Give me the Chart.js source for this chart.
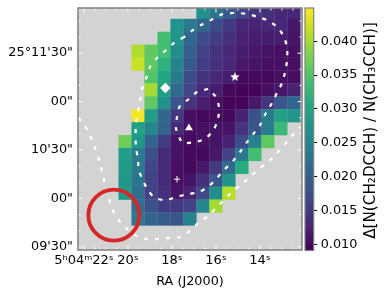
<!DOCTYPE html>
<html>
<head>
<meta charset="utf-8">
<script src="https://cdn.jsdelivr.net/npm/chart.js@4"></script>
<style>
  body { margin: 0; background: #fff; }
  #map { position: absolute; left: 0; top: 0; }
  #bar { position: absolute; left: 300px; top: 0; }
</style>
</head>
<body>
<canvas id="map" width="388" height="295"></canvas>
<canvas id="bar" width="88" height="295"></canvas>
<script>
const raCenters = [20.13, 19.54, 18.95, 18.36, 17.77, 17.18, 16.59, 16.0, 15.41, 14.82, 14.23, 13.64, 13.05, 12.46];
const decCenters = [175.2, 167.2, 159.2, 151.2, 143.2, 135.2, 127.2, 119.2, 111.2, 103.2, 95.2, 87.2, 79.2, 71.2, 63.2, 55.2, 47.2];

// one row per dec, one column per ra, values in units of 1e-3
const n = null;
const ratioRows = [
  [n, n, n, n, n, n, 27, 23, 19.5, 16.5, 14.5, 14, 13, 13],
  [n, n, n, n, 27.5, 23.5, 21, 17.5, 15, 13, 12.5, 13, 13, 11.5],
  [n, n, n, 34, 27.5, 21, 17.5, 15.5, 14, 12.5, 12, 12, 12, 11],
  [n, 40.5, 36, 34, 26.5, 20, 16, 14.5, 13, 12, 11.5, 11, 10.5, 10.5],
  [n, 42, 36, 32, 25, 19, 15.5, 14, 13, 11.5, 11, 10.5, 10.5, 10.5],
  [n, n, 35, 30.5, 24, 17.5, 14.5, 13, 12, 10, 10, 10, 10.5, 10.5],
  [n, n, 40, 29, 21.5, 16.5, 13, 12, 10, 9.5, 9.5, 10.5, 11.5, 12.5],
  [n, n, 36, 27, 18.5, 14.5, 12, 10.5, 9.5, 9.5, 11.5, 14.5, 18.5, 20.5],
  [n, 44.5, 29, 21, 15, 10.5, 10, 10, 10, 12.5, 18, 24, 29.5, 28],
  [n, 29.5, 25.5, 20.5, 13.5, 10.5, 10.5, 11, 11, 14.5, 18.5, 24, 33, n],
  [37, 28, 20.5, 15.5, 11, 10, 10.5, 11, 12.5, 17, 24.5, 36, n, n],
  [29, 24, 18, 13.5, 11, 10, 10, 11.5, 16, 23.5, 34, n, n, n],
  [28.5, 24, 16.5, 13.5, 10.5, 10, 11.5, 15, 21.5, 31, n, n, n, n],
  [28, 23, 16, 13.5, 10.5, 11, 14, 18.5, 27.5, n, n, n, n, n],
  [28.5, 22, 16, 14, 11, 12.5, 17, 26.5, 41, n, n, n, n, n],
  [n, 22, 18, 15.5, 15, 16, 25.5, 40, n, n, n, n, n, n],
  [n, 23.5, 20.5, 19.5, 18.5, 25, n, n, n, n, n, n, n, n]
];

const outerRa = [17.45, 17.91, 18.32, 18.68, 19.0, 19.18, 19.36, 19.45, 19.55, 19.64, 19.64, 19.55, 19.5, 19.32, 19.14, 18.82, 18.32, 17.82, 17.27, 16.77, 16.32, 15.96, 15.59, 15.23, 14.91, 14.59, 14.27, 14.0, 13.73, 13.45, 13.23, 13.0, 12.86, 12.77, 12.77, 12.91, 13.18, 13.59, 14.09, 14.59, 15.14, 15.68, 16.14, 16.59, 17.05, 17.45];
const outerDec = [160.0, 156.3, 151.3, 147.0, 141.4, 134.0, 127.8, 120.3, 112.9, 106.1, 91.8, 85.0, 77.5, 71.3, 66.4, 60.8, 59.0, 60.8, 62.7, 63.9, 67.6, 72.6, 78.2, 83.1, 88.7, 94.9, 100.5, 105.4, 112.9, 119.1, 125.3, 131.5, 138.3, 145.7, 153.2, 160.0, 165.6, 169.9, 172.4, 174.3, 174.9, 174.3, 171.2, 168.1, 164.3, 160.0];
const innerRa = [16.36, 16.86, 17.23, 17.64, 17.77, 17.82, 17.59, 17.5, 16.95, 16.45, 16.09, 15.91, 15.86, 16.0, 16.36];
const innerDec = [127.8, 125.9, 121.6, 117.2, 110.4, 103.6, 95.5, 94.3, 94.9, 97.4, 103.0, 109.2, 116.0, 122.8, 127.8];
const shellRa = [22.27, 22.09, 21.82, 21.59, 21.27, 21.14, 21.0, 20.73, 20.45, 20.09, 19.59, 19.14, 18.64, 18.09, 17.64, 17.14, 16.77, 16.36, 15.96, 15.23, 14.77, 14.41, 14.0, 13.59, 13.23, 12.86, 12.55, 12.18];
const shellDec = [109.8, 107.3, 101.7, 94.9, 81.9, 74.4, 67.0, 54.0, 47.2, 41.6, 36.6, 34.8, 34.8, 35.4, 36.0, 40.3, 45.3, 49.0, 54.6, 64.5, 69.5, 73.8, 78.8, 83.1, 88.1, 93.7, 98.6, 104.2];

const raTicks = [22, 20, 18, 16, 14];
const raLabels = ['5ʰ04ᵐ22ˢ', '20ˢ', '18ˢ', '16ˢ', '14ˢ'];
const raMinor = [21.5, 21, 20.5, 19.5, 19, 18.5, 17.5, 17, 16.5, 15.5, 15, 14.5, 13.5, 13, 12.5];
const decTicks = [150, 120, 90, 60, 30];
const decLabels = ['25°11\'30"', '00"', '10\'30"', '00"', '09\'30"'];
const decMinor = [170, 160, 140, 130, 110, 100, 80, 70, 50, 40];
const barTicks = [0.010, 0.015, 0.020, 0.025, 0.030, 0.035, 0.040];

const vmin = 0.0091, vmax = 0.0449;
const viridis = ['#440154', '#482475', '#414487', '#355f8d', '#2a788e', '#21918c', '#22a884', '#44bf70', '#7ad151', '#bddf26', '#fde725'];
const spineColor = '#808080';
const fontFamily = '"DejaVu Sans"';

function hexRgb(h) {
  return [parseInt(h.substr(1, 2), 16), parseInt(h.substr(3, 2), 16), parseInt(h.substr(5, 2), 16)];
}

function viridisAt(t) {
  t = Math.max(0, Math.min(1, t));
  let p = t * (viridis.length - 1);
  let i = Math.min(Math.floor(p), viridis.length - 2);
  let a = hexRgb(viridis[i]), b = hexRgb(viridis[i + 1]), f = p - i;
  return 'rgb(' + a.map((c, k) => Math.round(c + (b[k] - c) * f)).join(',') + ')';
}

function zipPoints(xs, ys) {
  return xs.map((x, i) => ({ x: x, y: ys[i] }));
}

// filled five pointed star, the built in one is only strokes
function starMarker(r) {
  let c = document.createElement('canvas');
  c.width = c.height = r * 2 + 2;
  let g = c.getContext('2d');
  g.fillStyle = '#fff';
  g.beginPath();
  for (let i = 0; i < 10; i++) {
    let rad = i % 2 ? r * 0.42 : r;
    let a = -Math.PI / 2 + i * Math.PI / 5;
    g.lineTo(r + 1 + rad * Math.cos(a), r + 1 + rad * Math.sin(a));
  }
  g.closePath();
  g.fill();
  return c;
}

let cells = [];
ratioRows.forEach((row, j) => {
  row.forEach((v, i) => {
    if (v !== null) cells.push({ x: raCenters[i], y: decCenters[j], v: v / 1000 });
  });
});

function contour(xs, ys) {
  return {
    data: zipPoints(xs, ys), showLine: true, borderColor: '#fff', borderWidth: 2.2,
    borderDash: [4, 7], pointRadius: 0, tension: 0.3, clip: 0, order: 5
  };
}

function marker(ra, dec, style, radius, extra) {
  return Object.assign({
    data: [{ x: ra, y: dec }], pointStyle: style, pointRadius: radius,
    backgroundColor: '#fff', borderColor: '#fff', borderWidth: 0, order: 1
  }, extra);
}

const tickMarks = {
  id: 'tickMarks',
  beforeDraw(chart) {
    let a = chart.chartArea, c = chart.ctx;
    c.save();
    c.fillStyle = '#d3d3d3';
    c.fillRect(a.left, a.top, a.width, a.height);
    c.restore();
  },
  afterDraw(chart) {
    let a = chart.chartArea, c = chart.ctx;
    let xs = chart.scales.x, ys = chart.scales.y;
    c.save();
    c.strokeStyle = '#fff';
    c.lineWidth = 1;
    c.beginPath();
    raTicks.concat(raMinor).forEach((t, i) => {
      let px = xs.getPixelForValue(t), len = i < raTicks.length ? 4.5 : 2.5;
      c.moveTo(px, a.top); c.lineTo(px, a.top + len);
      c.moveTo(px, a.bottom); c.lineTo(px, a.bottom - len);
    });
    decTicks.concat(decMinor).forEach((t, i) => {
      let py = ys.getPixelForValue(t), len = i < decTicks.length ? 4.5 : 2.5;
      c.moveTo(a.left, py); c.lineTo(a.left + len, py);
      c.moveTo(a.right, py); c.lineTo(a.right - len, py);
    });
    c.stroke();
    c.strokeStyle = spineColor;
    c.lineWidth = 1.5;
    c.strokeRect(a.left, a.top, a.width, a.height);
    c.restore();
  }
};

function noPadding(s) {
  s.paddingLeft = s.paddingRight = s.paddingTop = s.paddingBottom = 0;
}

new Chart(document.getElementById('map'), {
  type: 'scatter',
  data: {
    datasets: [
      {
        data: cells, pointStyle: 'rect', pointRadius: 9.35, borderWidth: 0, clip: 0, order: 10,
        backgroundColor: ctx => viridisAt((ctx.raw.v - vmin) / (vmax - vmin))
      },
      contour(outerRa, outerDec),
      contour(innerRa, innerDec),
      contour(shellRa, shellDec),
      marker(15.14, 135.2, starMarker(5), 5),
      marker(18.3, 128.4, 'rectRot', 5.2),
      marker(17.23, 103.6, 'triangle', 4.6),
      marker(17.77, 71.9, 'cross', 3.2, { borderWidth: 1 }),
      {
        data: [{ x: 20.64, y: 49.6 }], pointStyle: 'circle', pointRadius: 25.5,
        backgroundColor: 'rgba(0,0,0,0)', borderColor: '#d62728', borderWidth: 3.8, order: 0
      }
    ]
  },
  options: {
    responsive: false,
    animation: false,
    events: [],
    layout: { autoPadding: false, padding: { left: 0, right: 86, top: 8, bottom: 0 } },
    plugins: { legend: { display: false }, tooltip: { enabled: false } },
    scales: {
      x: {
        type: 'linear', reverse: true, min: 12.09, max: 22.27,
        afterFit: s => { s.height = 45; noPadding(s); },
        afterBuildTicks: s => { s.ticks = raTicks.map(v => ({ value: v })); },
        grid: { display: false, tickLength: 0 },
        border: { display: false },
        ticks: {
          autoSkip: false, maxRotation: 0, padding: 3, color: '#000',
          font: { family: fontFamily, size: 13 },
          callback: v => raLabels[raTicks.indexOf(v)]
        },
        title: { display: true, text: 'RA (J2000)', color: '#000', padding: { top: 4, bottom: 6 }, font: { family: fontFamily, size: 12.8 } }
      },
      y: {
        type: 'linear', min: 28, max: 178,
        afterFit: s => { s.width = 78; noPadding(s); },
        afterBuildTicks: s => { s.ticks = decTicks.map(v => ({ value: v })); },
        grid: { display: false, tickLength: 0 },
        border: { display: false },
        ticks: {
          autoSkip: false, padding: 5, color: '#000',
          font: { family: fontFamily, size: 12.8 },
          callback: v => decLabels[decTicks.indexOf(v)]
        }
      }
    }
  },
  plugins: [tickMarks]
});

const barFrame = {
  id: 'barFrame',
  afterDraw(chart) {
    let a = chart.chartArea, c = chart.ctx;
    c.save();
    c.strokeStyle = spineColor;
    c.lineWidth = 1.2;
    c.strokeRect(a.left, a.top, a.width, a.height);
    c.translate(71, 130.5);
    c.rotate(-Math.PI / 2);
    c.fillStyle = '#000';
    c.font = '15.2px ' + fontFamily;
    c.textAlign = 'center';
    c.textBaseline = 'middle';
    c.fillText('Δ[N(CH₂DCCH) / N(CH₃CCH)]', 0, 0);
    c.restore();
  }
};

function barGradient(ctx) {
  let a = ctx.chart.chartArea;
  if (!a) return viridis[0];
  let g = ctx.chart.ctx.createLinearGradient(0, a.bottom, 0, a.top);
  viridis.forEach((col, i) => g.addColorStop(i / (viridis.length - 1), col));
  return g;
}

new Chart(document.getElementById('bar'), {
  type: 'bar',
  data: {
    labels: ['ratio'],
    datasets: [{ data: [[vmin, vmax]], backgroundColor: barGradient, barPercentage: 1, categoryPercentage: 1 }]
  },
  options: {
    responsive: false,
    animation: false,
    events: [],
    layout: { autoPadding: false, padding: { left: 5, right: 0, top: 8, bottom: 44.5 } },
    plugins: { legend: { display: false }, tooltip: { enabled: false } },
    scales: {
      x: { display: false },
      y: {
        position: 'right', min: vmin, max: vmax,
        afterFit: s => { s.width = 74.3; noPadding(s); },
        afterBuildTicks: s => { s.ticks = barTicks.map(v => ({ value: v })); },
        grid: { drawOnChartArea: false, tickLength: 3.5, tickColor: '#000', tickWidth: 1 },
        border: { display: false },
        ticks: {
          padding: 3.5, color: '#000',
          font: { family: fontFamily, size: 12.8 },
          callback: v => v.toFixed(3)
        }
      }
    }
  },
  plugins: [barFrame]
});
</script>
</body>
</html>
